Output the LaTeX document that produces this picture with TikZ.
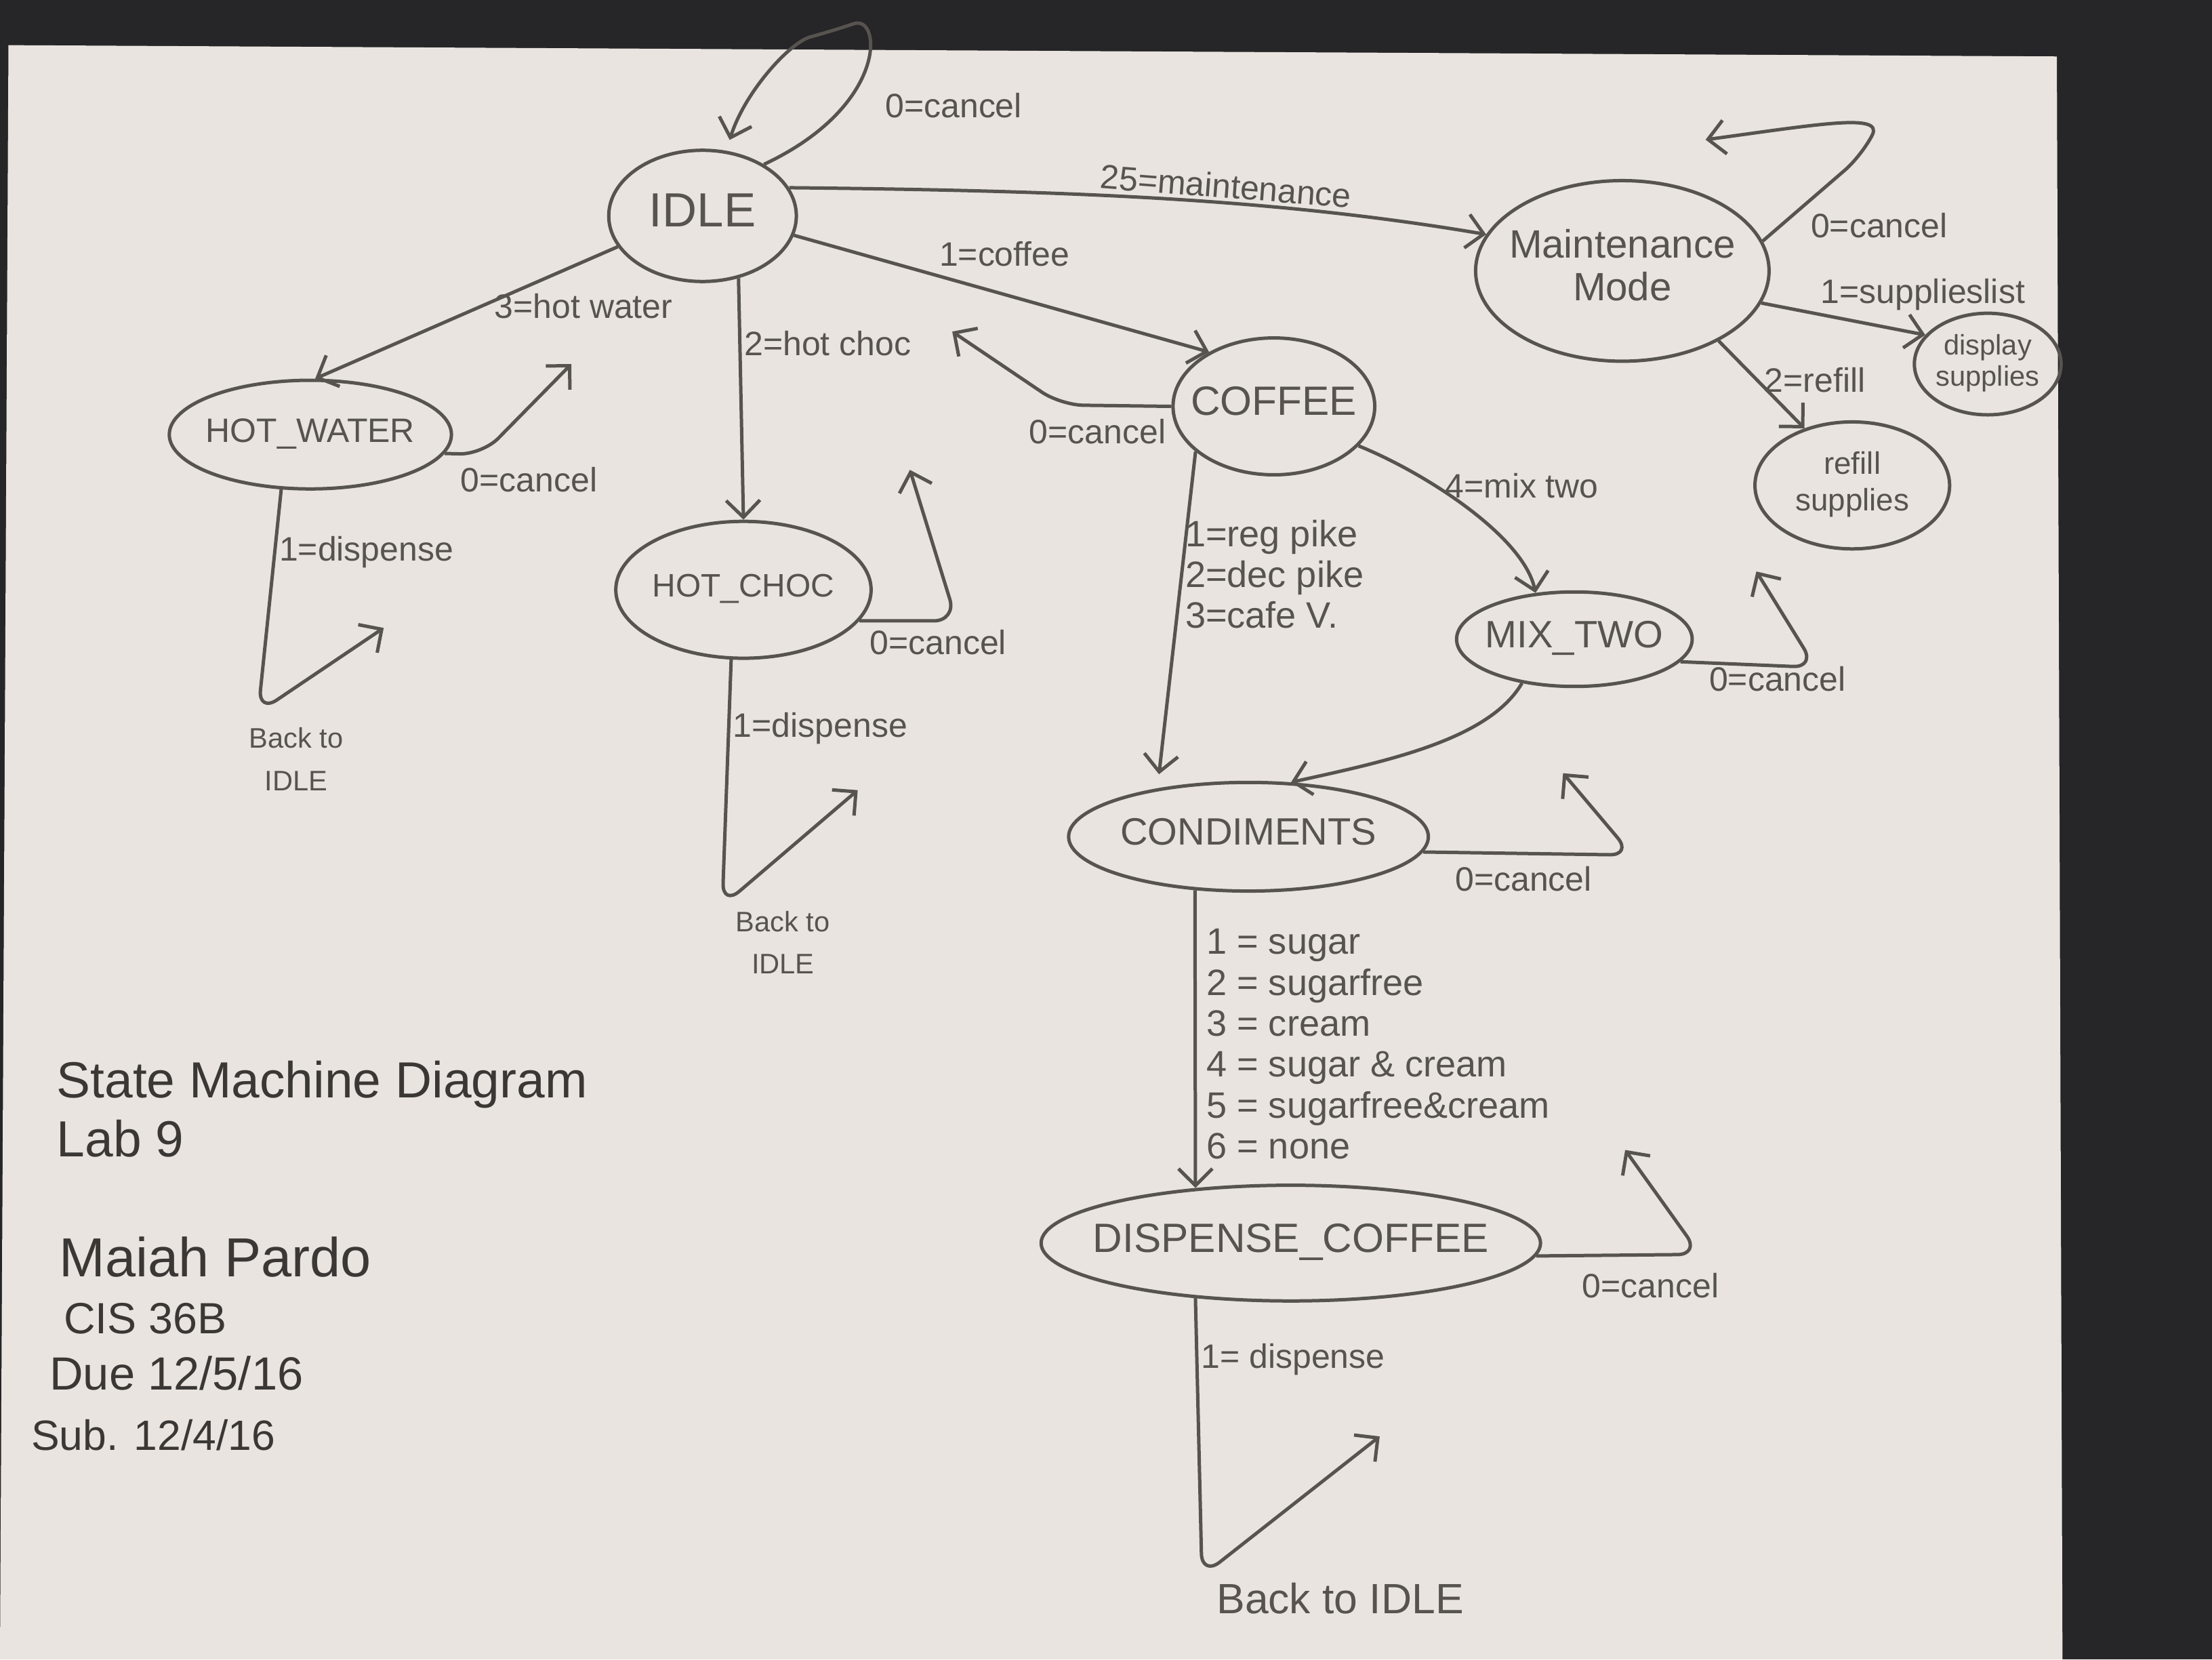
\documentclass[tikz,border=0pt]{standalone}
\usepackage{fontspec}
\setmainfont{Liberation Sans}
\usetikzlibrary{shapes.geometric,arrows.meta}
\definecolor{desk}{HTML}{262528}
\definecolor{paper}{HTML}{E9E4DF}
\definecolor{pencil}{HTML}{57534F}
\definecolor{pen}{HTML}{3A3735}
\newcommand{\statetext}[1]{\makebox[0pt]{\begin{tabular}{@{}c@{}}#1\end{tabular}}}

\begin{document}
\begin{tikzpicture}[x=1pt, y=-1pt,
    mstate/.style={ellipse, draw=pencil, line width=2.4pt, inner sep=0pt, text=pencil},
    trans/.style={draw=pencil, line width=2.4pt, ->, >={Straight Barb[length=12pt,width=24pt]}, rounded corners=16pt},
    lbl/.style={text=pencil, font=\fontsize{24}{28}\selectfont, inner sep=2pt},
    note/.style={text=pen, anchor=base west, inner sep=0pt}]

    \useasboundingbox (0,0) rectangle (1568,1176);

    % Desk and sheet
    \fill[desk] (0,0) rectangle (1568,1176);
    \fill[paper] (6,32) -- (1458,40) -- (1462,1176) -- (0,1176) -- cycle;

    % States
    \node[mstate, minimum width=133pt, minimum height=93pt, font=\fontsize{34}{38}\selectfont] (idle) at (498,153) {\statetext{IDLE}};
    \node[mstate, minimum width=208pt, minimum height=128pt, font=\fontsize{28}{30}\selectfont] (maint) at (1150,192) {\statetext{Maintenance\\Mode}};
    \node[mstate, minimum width=104pt, minimum height=72pt, font=\fontsize{20}{22}\selectfont] (display) at (1409,258) {\statetext{display\\supplies}};
    \node[mstate, minimum width=138pt, minimum height=90pt, font=\fontsize{22}{26}\selectfont] (refill) at (1313,344) {\statetext{refill\\supplies}};
    \node[mstate, minimum width=143pt, minimum height=97pt, font=\fontsize{29}{32}\selectfont] (coffee) at (903,288) {\statetext{COFFEE}};
    \node[mstate, minimum width=200pt, minimum height=77pt, font=\fontsize{24}{28}\selectfont] (hotwater) at (220,308) {\statetext{HOT\_WATER}};
    \node[mstate, minimum width=181pt, minimum height=97pt, font=\fontsize{23}{26}\selectfont] (hotchoc) at (527,418) {\statetext{HOT\_CHOC}};
    \node[mstate, minimum width=167pt, minimum height=67pt, font=\fontsize{27}{30}\selectfont] (mixtwo) at (1116,453) {\statetext{MIX\_TWO}};
    \node[mstate, minimum width=255pt, minimum height=77pt, font=\fontsize{27}{30}\selectfont] (condiments) at (885,593) {\statetext{CONDIMENTS}};
    \node[mstate, minimum width=354pt, minimum height=82pt, font=\fontsize{29}{32}\selectfont] (dispense) at (915,881) {\statetext{DISPENSE\_COFFEE}};

    % Free ends of the cancel and dispense arrows
    \coordinate (maintback) at (1209,99);
    \coordinate (coffeeback) at (675,235);
    \coordinate (hwback) at (405,258);
    \coordinate (hwdisp) at (272,445);
    \coordinate (hcback) at (645,333);
    \coordinate (hcdisp) at (608,560);
    \coordinate (mixback) at (1245,405);
    \coordinate (condback) at (1108,548);
    \coordinate (dispback) at (1152,815);
    \coordinate (dispdisp) at (978,1018);

    % IDLE transitions
    \draw[trans, shorten >=8pt] (idle.40) .. controls (630,75) and (625,10) .. (590,22) .. controls (560,30) and (528,65) .. (idle.70);
    \node[lbl] (idlecancel) at (676,75) {0=cancel};
    \draw[trans] (idle.18) .. controls (750,135) and (900,140) .. (maint.165) node[lbl, pos=.6, above, sloped] {25=maintenance};
    \draw[trans] (idle.-12) -- (coffee.140);
    \node[lbl] (coffeelabel) at (712,180) {1=coffee};
    \draw[trans] (idle.200) -- (hotwater.85) node[lbl, pos=.45, right=6pt] {3=hot water};
    \draw[trans] (idle.-60) -- (hotchoc.north) node[lbl, pos=.27, right] {2=hot choc};

    % Maintenance transitions
    \draw[trans] (maint.12) -- (1320,110) .. controls (1335,80) and (1290,88) .. (maintback);
    \node[lbl] (maintcancel) at (1332,160) {0=cancel};
    \draw[trans] (maint.-13) -- (display.155);
    \node[lbl] (supplabel) at (1363,209) {1=supplieslist};
    \draw[trans] (maint.-36) -- (refill.130) node[lbl, pos=.45, right=2pt] {2=refill};

    % HOT_WATER transitions
    \draw[trans] (hotwater.-8) -- (342,322) -- (hwback);
    \node[lbl] (hwcancel) at (375,340) {0=cancel};
    \draw[trans] (hotwater.-118) -- node[lbl, pos=.28, right] {1=dispense} (183,505) -- (hwdisp);
    \node[lbl, font=\fontsize{20}{30}\selectfont, align=center] (hwnote) at (210,538) {Back to\\IDLE};

    % HOT_CHOC transitions
    \draw[trans] (hotchoc.-15) -- (678,440) -- (hcback);
    \node[lbl] (hccancel) at (665,455) {0=cancel};
    \draw[trans] (hotchoc.-100) -- node[lbl, pos=.28, right] {1=dispense} (512,642) -- (hcdisp);
    \node[lbl, font=\fontsize{20}{30}\selectfont, align=center] (hcnote) at (555,668) {Back to\\IDLE};

    % COFFEE transitions
    \draw[trans] (coffee.west) -- (752,287) -- (coffeeback);
    \node[lbl] (coffeecancel) at (778,306) {0=cancel};
    \draw[trans, shorten >=10pt] (coffee.-150) -- (condiments.152);
    \node[lbl, font=\fontsize{26}{29}\selectfont, align=left, anchor=west] (coffeechoices) at (838,407) {1=reg pike\\2=dec pike\\3=cafe V.};
    \draw[trans] (coffee.-25) .. controls (1010,335) and (1080,380) .. (mixtwo.130) node[lbl, pos=.35, right=4pt] {4=mix two};

    % MIX_TWO transitions
    \draw[trans] (mixtwo.-12) -- (1287,473) -- (mixback);
    \node[lbl] (mixcancel) at (1260,481) {0=cancel};
    \draw[trans] (mixtwo.-140) .. controls (1055,525) and (980,540) .. (condiments.52);

    % CONDIMENTS transitions
    \draw[trans] (condiments.-5) -- (1157,606) -- (condback);
    \node[lbl] (condcancel) at (1080,623) {0=cancel};
    \draw[trans] (condiments.-135) -- (dispense.150);
    \node[lbl, font=\fontsize{26}{29}\selectfont, align=left, anchor=west] (condchoices) at (853,740) {1 = sugar\\2 = sugarfree\\3 = cream\\4 = sugar \& cream\\5 = sugarfree\&cream\\6 = none};

    % DISPENSE_COFFEE transitions
    \draw[trans] (dispense.-3) -- (1205,889) -- (dispback);
    \node[lbl] (dispcancel) at (1170,911) {0=cancel};
    \draw[trans] (dispense.-150) -- node[lbl, pos=.22, right] {1= dispense} (852,1117) -- (dispdisp);
    \node[lbl, font=\fontsize{30}{34}\selectfont] (dispnote) at (950,1133) {Back to IDLE};

    % Title block
    \node[note, font=\fontsize{36}{40}\selectfont] (title) at (40,778) {State Machine Diagram};
    \node[note, font=\fontsize{36}{40}\selectfont] (lab) at (40,820) {Lab 9};
    \node[note, font=\fontsize{39}{42}\selectfont] (author) at (42,905) {Maiah Pardo};
    \node[note, font=\fontsize{31}{34}\selectfont] (course) at (45,945) {CIS 36B};
    \node[note, font=\fontsize{33}{36}\selectfont] (due) at (35,985) {Due 12/5/16};
    \node[note, font=\fontsize{30}{34}\selectfont] (sub) at (22,1028) {Sub. 12/4/16};

\end{tikzpicture}
\end{document}
